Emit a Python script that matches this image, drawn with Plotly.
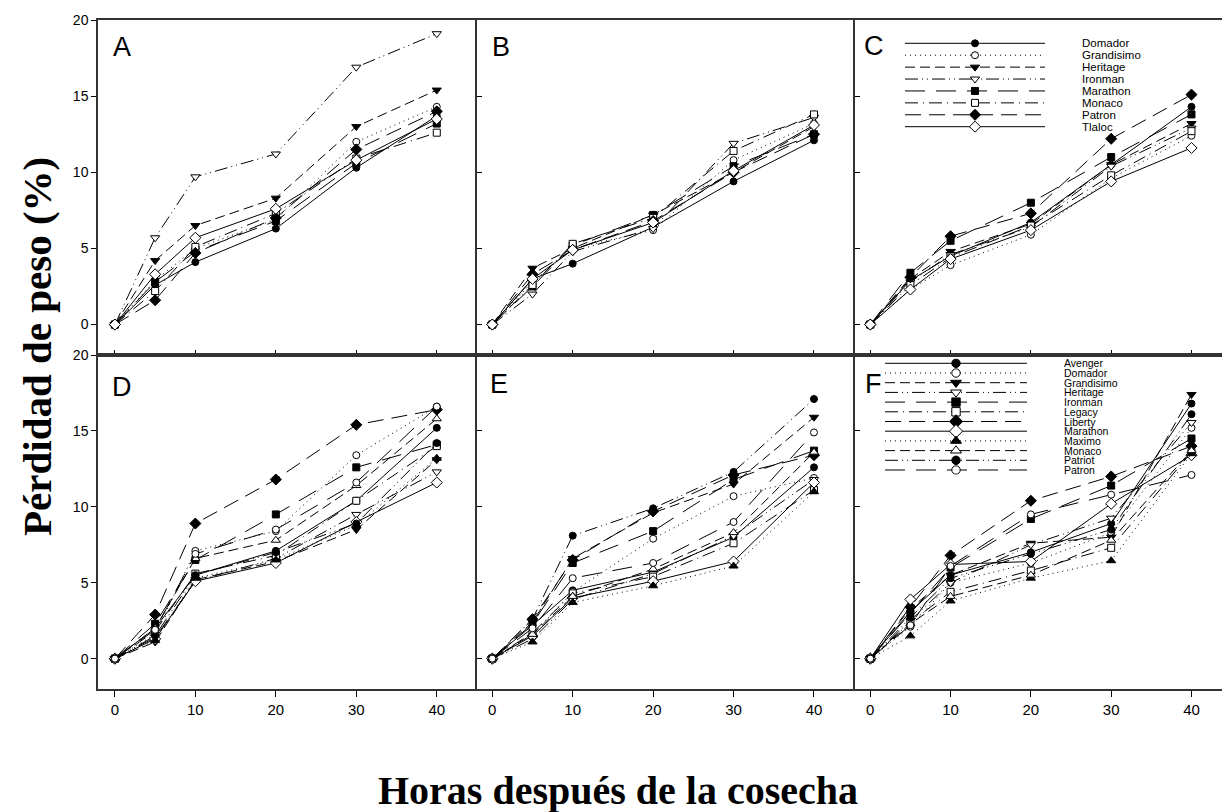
import plotly.graph_objects as go

# ---------------- data ----------------
hours = [0, 5, 10, 20, 30, 40]
y_tick_vals = [0, 5, 10, 15, 20]
x_tick_vals = [0, 10, 20, 30, 40]

varieties_abc = ["Domador", "Grandisimo", "Heritage", "Ironman",
                 "Marathon", "Monaco", "Patron", "Tlaloc"]
varieties_def = ["Avenger", "Domador", "Grandisimo", "Heritage", "Ironman",
                 "Legacy", "Liberty", "Marathon", "Maximo", "Monaco",
                 "Patriot", "Patron"]

panel_A = {
    "Domador":    [0, 2.6, 4.1, 6.3, 10.3, 13.7],
    "Grandisimo": [0, 2.9, 5.0, 6.9, 12.0, 14.3],
    "Heritage":   [0, 4.2, 6.5, 8.3, 13.0, 15.4],
    "Ironman":    [0, 5.7, 9.7, 11.2, 16.9, 19.1],
    "Marathon":   [0, 2.8, 4.8, 6.8, 10.6, 13.2],
    "Monaco":     [0, 2.2, 5.1, 7.3, 10.9, 12.6],
    "Patron":     [0, 1.6, 4.7, 7.0, 11.5, 14.0],
    "Tlaloc":     [0, 3.3, 5.7, 7.6, 10.8, 13.5],
}
panel_B = {
    "Domador":    [0, 3.0, 4.0, 6.4, 9.4, 12.1],
    "Grandisimo": [0, 2.8, 5.0, 6.2, 10.8, 13.2],
    "Heritage":   [0, 3.7, 5.0, 7.2, 10.0, 13.0],
    "Ironman":    [0, 2.0, 4.8, 6.3, 11.9, 13.6],
    "Marathon":   [0, 2.5, 5.2, 7.2, 10.4, 12.5],
    "Monaco":     [0, 2.6, 5.3, 7.0, 11.4, 13.8],
    "Patron":     [0, 3.3, 4.9, 6.8, 10.0, 12.5],
    "Tlaloc":     [0, 3.0, 4.9, 6.7, 10.1, 13.1],
}
panel_C = {
    "Domador":    [0, 2.9, 4.5, 6.7, 10.5, 14.3],
    "Grandisimo": [0, 2.3, 3.9, 5.9, 9.6, 12.4],
    "Heritage":   [0, 3.0, 4.8, 6.6, 10.5, 13.2],
    "Ironman":    [0, 2.8, 4.6, 6.4, 10.4, 12.9],
    "Marathon":   [0, 3.4, 5.5, 8.0, 11.0, 13.8],
    "Monaco":     [0, 2.6, 4.4, 6.5, 9.8, 12.7],
    "Patron":     [0, 3.1, 5.8, 7.3, 12.2, 15.1],
    "Tlaloc":     [0, 2.3, 4.3, 6.2, 9.4, 11.6],
}
panel_D = {
    "Avenger":    [0, 2.0, 5.5, 7.1, 10.4, 15.2],
    "Domador":    [0, 1.6, 7.1, 8.4, 13.4, 16.6],
    "Grandisimo": [0, 1.1, 5.2, 6.4, 8.5, 13.1],
    "Heritage":   [0, 1.4, 5.1, 6.6, 9.5, 12.3],
    "Ironman":    [0, 2.3, 6.5, 9.5, 12.6, 14.1],
    "Legacy":     [0, 1.8, 5.6, 6.8, 10.4, 14.0],
    "Liberty":    [0, 2.9, 8.9, 11.8, 15.4, 16.4],
    "Marathon":   [0, 1.3, 5.1, 6.3, 9.0, 11.6],
    "Maximo":     [0, 1.2, 5.3, 6.5, 8.8, 13.2],
    "Monaco":     [0, 2.0, 6.6, 7.8, 11.4, 15.8],
    "Patriot":    [0, 1.5, 5.5, 7.0, 8.9, 14.2],
    "Patron":     [0, 1.9, 6.9, 8.5, 11.6, 16.6],
}
panel_E = {
    "Avenger":    [0, 2.2, 4.5, 5.7, 8.0, 12.6],
    "Domador":    [0, 1.6, 4.4, 7.9, 10.7, 11.9],
    "Grandisimo": [0, 2.4, 6.6, 9.6, 11.5, 15.9],
    "Heritage":   [0, 1.3, 3.9, 5.6, 8.1, 11.8],
    "Ironman":    [0, 2.3, 6.3, 8.4, 11.8, 13.7],
    "Legacy":     [0, 1.7, 4.3, 5.4, 7.6, 11.1],
    "Liberty":    [0, 2.6, 6.5, 9.7, 12.1, 13.4],
    "Marathon":   [0, 1.5, 4.0, 5.1, 6.4, 11.6],
    "Maximo":     [0, 1.1, 3.7, 4.8, 6.1, 11.0],
    "Monaco":     [0, 1.6, 4.1, 5.9, 8.3, 13.6],
    "Patriot":    [0, 2.6, 8.1, 9.9, 12.3, 17.1],
    "Patron":     [0, 2.0, 5.3, 6.3, 9.0, 14.9],
}
panel_F = {
    "Avenger":    [0, 3.1, 5.5, 7.0, 8.9, 16.8],
    "Domador":    [0, 2.1, 5.0, 6.3, 8.3, 15.2],
    "Grandisimo": [0, 3.3, 5.5, 7.6, 8.0, 17.4],
    "Heritage":   [0, 2.5, 5.0, 7.5, 9.25, 15.55],
    "Ironman":    [0, 3.0, 6.0, 9.2, 11.4, 14.5],
    "Legacy":     [0, 2.4, 4.4, 5.8, 7.3, 13.6],
    "Liberty":    [0, 3.4, 6.8, 10.4, 12.0, 14.0],
    "Marathon":   [0, 3.9, 6.2, 6.4, 10.2, 13.4],
    "Maximo":     [0, 1.5, 3.8, 5.3, 6.45, 13.5],
    "Monaco":     [0, 2.3, 4.1, 5.5, 7.8, 13.7],
    "Patriot":    [0, 2.7, 5.3, 6.9, 8.5, 16.1],
    "Patron":     [0, 2.2, 6.1, 9.5, 10.8, 12.1],
}

# ---------------- styles ----------------
DOT = "1px,4px"
DASH = "10px,5px"
DASHDOTDOT = "13px,4px,1px,4px,1px,4px"
LONGDASH = "20px,11px"
DASHDOT = "13px,5px,1px,5px"
MEDDASH = "16px,8px"

style_abc = {
    "Domador":    ("circle", True, "solid"),
    "Grandisimo": ("circle", False, DOT),
    "Heritage":   ("triangle-down", True, DASH),
    "Ironman":    ("triangle-down", False, DASHDOTDOT),
    "Marathon":   ("square", True, LONGDASH),
    "Monaco":     ("square", False, DASHDOT),
    "Patron":     ("diamond", True, MEDDASH),
    "Tlaloc":     ("diamond", False, "solid"),
}
style_def = {
    "Avenger":    ("circle", True, "solid"),
    "Domador":    ("circle", False, DOT),
    "Grandisimo": ("triangle-down", True, DASH),
    "Heritage":   ("triangle-down", False, DASHDOTDOT),
    "Ironman":    ("square", True, LONGDASH),
    "Legacy":     ("square", False, DASHDOT),
    "Liberty":    ("diamond", True, MEDDASH),
    "Marathon":   ("diamond", False, "solid"),
    "Maximo":     ("triangle-up", True, DOT),
    "Monaco":     ("triangle-up", False, DASH),
    "Patriot":    ("circle", True, DASHDOTDOT),
    "Patron":     ("circle", False, LONGDASH),
}

SYM_SIZE = {"circle": 7, "square": 7, "diamond": 8.5,
            "triangle-down": 8, "triangle-up": 8}

# ---------------- geometry (pixels) ----------------
W, H = 1222, 812
ML, MT, MB = 98, 20, 123
PW, PH = W - ML, H - MT - MB


def px_x(p):
    return (p - ML) / PW


def px_y(p):
    return (H - MB - p) / PH


col_dom = [[0, px_x(477)], [px_x(477), px_x(855)], [px_x(855), 1.0]]
row_dom = [[px_y(355), 1.0], [0.0, px_y(355)]]
x_ranges = [[-2.1, 45.0], [-1.9, 45.1], [-1.9, 43.8]]
Y_RANGE = [-2, 20]

fig = go.Figure()

panels = [
    (panel_A, varieties_abc, style_abc, 0, 0),
    (panel_B, varieties_abc, style_abc, 0, 1),
    (panel_C, varieties_abc, style_abc, 0, 2),
    (panel_D, varieties_def, style_def, 1, 0),
    (panel_E, varieties_def, style_def, 1, 1),
    (panel_F, varieties_def, style_def, 1, 2),
]

layout_axes = {}
for k, (pdata, names, styles, r, c) in enumerate(panels):
    idx = k + 1
    xa = "x" if idx == 1 else f"x{idx}"
    ya = "y" if idx == 1 else f"y{idx}"
    for name in names:
        sym, filled, dash = styles[name]
        fig.add_trace(go.Scatter(
            x=hours, y=pdata[name], mode="lines+markers", name=name,
            xaxis=xa, yaxis=ya, showlegend=False,
            line=dict(color="black", width=1, dash=dash),
            marker=dict(symbol=sym, size=SYM_SIZE[sym],
                        color="black" if filled else "white",
                        line=dict(color="black", width=1)),
        ))
    bottom = (r == 1)
    first = (c == 0)
    xkey = "xaxis" if idx == 1 else f"xaxis{idx}"
    ykey = "yaxis" if idx == 1 else f"yaxis{idx}"
    layout_axes[xkey] = dict(
        domain=col_dom[c], anchor=ya, range=x_ranges[c],
        tickvals=x_tick_vals, showticklabels=bottom,
        ticks="outside" if bottom else "inside", ticklen=6 if bottom else 5,
        tickcolor="black", tickwidth=1,
        showline=True, linecolor="#333333", linewidth=1.5,
        mirror=True if bottom else False,
        showgrid=False, zeroline=False,
        tickfont=dict(family="Liberation Sans, Arial", size=15, color="black"),
    )
    if not bottom:
        # top frame line of the upper row
        layout_axes[xkey]["mirror"] = True
    layout_axes[ykey] = dict(
        domain=row_dom[r], anchor=xa, range=Y_RANGE,
        tickvals=y_tick_vals, showticklabels=first,
        ticks="outside" if first else "inside", ticklen=5,
        tickcolor="black", tickwidth=1,
        showline=True, linecolor="#333333", linewidth=1.5, mirror=False,
        showgrid=False, zeroline=False,
        tickfont=dict(family="Liberation Sans, Arial", size=14, color="black"),
    )

# ---------------- custom legends (hidden axes) ----------------
legend_specs = [
    # axis idx, names, styles, line x px, row y px, marker scale, label x px, font size
    (7, varieties_abc, style_abc, (905, 1045), (43.3, 126.7), 1.0, 1080, 11.5),
    (8, varieties_def, style_def, (885, 1027), (363.3, 470.0), 1.2, 1062, 10.5),
]
annotations = []
for idx, names, styles, (x0, x1), (y0, y1), msc, lx, fs in legend_specs:
    n = len(names)
    step = (y1 - y0) / (n - 1)
    layout_axes[f"xaxis{idx}"] = dict(domain=[px_x(x0), px_x(x1)], range=[0, 1],
                                      anchor=f"y{idx}", visible=False, fixedrange=True)
    layout_axes[f"yaxis{idx}"] = dict(domain=[px_y(y1 + step / 2), px_y(y0 - step / 2)],
                                      range=[n - 0.5, -0.5], anchor=f"x{idx}",
                                      visible=False, fixedrange=True)
    for i, name in enumerate(names):
        sym, filled, dash = styles[name]
        fig.add_trace(go.Scatter(
            x=[0, 1], y=[i, i], mode="lines", xaxis=f"x{idx}", yaxis=f"y{idx}",
            showlegend=False, hoverinfo="skip",
            line=dict(color="black", width=1, dash=dash)))
        fig.add_trace(go.Scatter(
            x=[0.5], y=[i], mode="markers", xaxis=f"x{idx}", yaxis=f"y{idx}",
            showlegend=False, hoverinfo="skip",
            marker=dict(symbol=sym, size=SYM_SIZE[sym] * msc,
                        color="black" if filled else "white",
                        line=dict(color="black", width=1))))
        annotations.append(dict(
            x=px_x(lx), xref="paper", y=i, yref=f"y{idx}", text=name,
            showarrow=False, xanchor="left", yanchor="middle",
            font=dict(family="Liberation Sans, Arial", size=fs, color="black")))

# panel letters
letters = [("A", 122, 47), ("B", 501, 47), ("C", 874, 46),
           ("D", 122, 387), ("E", 499, 384), ("F", 873, 384)]
for t, lxp, lyp in letters:
    annotations.append(dict(
        x=px_x(lxp), y=px_y(lyp), xref="paper", yref="paper", text=t,
        showarrow=False, xanchor="center", yanchor="middle",
        font=dict(family="Liberation Sans, Arial", size=27, color="black")))

# axis titles
annotations.append(dict(
    x=px_x(37), y=px_y(347), xref="paper", yref="paper",
    text="Pérdidad de peso (%)", textangle=-90, showarrow=False,
    xanchor="center", yanchor="middle",
    font=dict(family="Liberation Serif, Times New Roman", size=41, color="black",
              weight="bold")))
annotations.append(dict(
    x=px_x(618), y=px_y(790), xref="paper", yref="paper",
    text="Horas después de la cosecha", showarrow=False,
    xanchor="center", yanchor="middle",
    font=dict(family="Liberation Serif, Times New Roman", size=40, color="black",
              weight="bold")))

fig.update_layout(
    width=W, height=H,
    margin=dict(l=ML, r=0, t=MT, b=MB, pad=0),
    paper_bgcolor="white", plot_bgcolor="rgba(0,0,0,0)",
    showlegend=False,
    annotations=annotations,
    **layout_axes,
)

fig.write_html("out.html")
